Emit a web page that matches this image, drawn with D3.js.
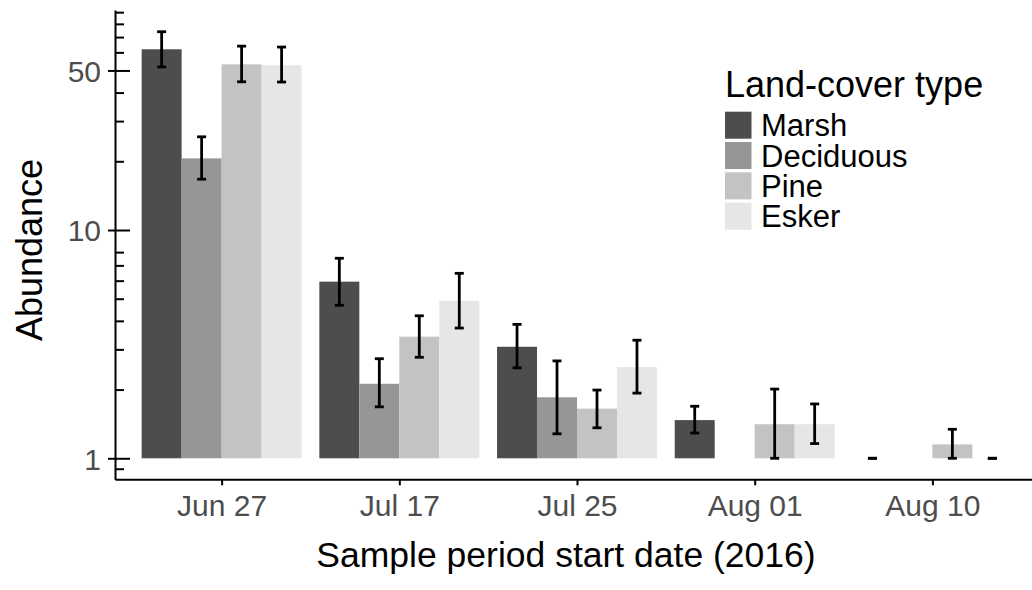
<!DOCTYPE html>
<html>
<head>
<meta charset="utf-8">
<script src="https://cdn.jsdelivr.net/npm/d3@7"></script>
<style>
  html, body { margin: 0; padding: 0; background: #fff; }
  svg { display: block; font-family: "Liberation Sans", Arial, sans-serif; }
</style>
</head>
<body>
<svg id="chart" width="1032" height="590"></svg>
<script>
// Sample periods (start dates, 2016) and land-cover types
const dates = ["Jun 27", "Jul 17", "Jul 25", "Aug 01", "Aug 10"];
const coverTypes = ["Marsh", "Deciduous", "Pine", "Esker"];

// Mean abundance per sample period (null = no catch)
const meanMarsh     = [61.9, 5.94, 3.08, 1.47, 1];
const meanDeciduous = [20.6, 2.12, 1.85, null, null];
const meanPine      = [53.2, 3.41, 1.65, 1.41, 1.15];
const meanEsker     = [52.7, 4.90, 2.51, 1.41, 1];

// Error-bar limits
const lowerMarsh     = [51.8, 4.68, 2.49, 1.29, 1];
const upperMarsh     = [73.9, 7.52, 3.86, 1.69, 1];
const lowerDeciduous = [16.7, 1.68, 1.28, null, null];
const upperDeciduous = [25.6, 2.73, 2.67, null, null];
const lowerPine      = [44.6, 2.77, 1.36, 1.00, 1.00];
const upperPine      = [63.9, 4.21, 1.99, 2.01, 1.34];
const lowerEsker     = [44.5, 3.72, 1.93, 1.16, 1];
const upperEsker     = [63.3, 6.46, 3.29, 1.73, 1];

// Axis ticks
const yMajorTicks = [1, 10, 50];
const yMinorTicks = [0.9, 2, 3, 4, 5, 6, 7, 8, 20, 30, 40, 60, 70, 80, 90];

const greys = ["#4d4d4d", "#969696", "#c3c3c3", "#e6e6e6"];

const series = [
  { type: "Marsh",     mean: meanMarsh,     lo: lowerMarsh,     hi: upperMarsh },
  { type: "Deciduous", mean: meanDeciduous, lo: lowerDeciduous, hi: upperDeciduous },
  { type: "Pine",      mean: meanPine,      lo: lowerPine,      hi: upperPine },
  { type: "Esker",     mean: meanEsker,     lo: lowerEsker,     hi: upperEsker }
];

const rows = [];
series.forEach(s => {
  dates.forEach((d, i) => {
    if (s.mean[i] != null) rows.push({ date: d, type: s.type, mean: s.mean[i], lo: s.lo[i], hi: s.hi[i] });
  });
});

const svg = d3.select("#chart");

const panel = { left: 115, right: 1039, top: 10, bottom: 479.3 };

const x = d3.scalePoint().domain(dates).range([panel.left, panel.right]).padding(0.6);
const groupWidth = x.step() * 0.9;
const xSub = d3.scaleBand().domain(coverTypes).range([-groupWidth / 2, groupWidth / 2]);

const y = d3.scaleLog().domain([0.809, 92]).range([panel.bottom, panel.top]);
const color = d3.scaleOrdinal().domain(coverTypes).range(greys);

// Bars rise from 1 (log baseline)
svg.append("g").selectAll("rect").data(rows).join("rect")
  .attr("x", d => x(d.date) + xSub(d.type))
  .attr("width", xSub.bandwidth())
  .attr("y", d => y(d.mean))
  .attr("height", d => y(1) - y(d.mean))
  .attr("fill", d => color(d.type));

// Error bars
const capHalf = 4.5;
const eb = svg.append("g").attr("stroke", "#000").attr("stroke-width", 2.8).attr("fill", "none");
rows.forEach(d => {
  const cx = x(d.date) + xSub(d.type) + xSub.bandwidth() / 2;
  eb.append("line").attr("x1", cx).attr("x2", cx).attr("y1", y(d.lo)).attr("y2", y(d.hi));
  eb.append("line").attr("x1", cx - capHalf).attr("x2", cx + capHalf).attr("y1", y(d.lo)).attr("y2", y(d.lo));
  eb.append("line").attr("x1", cx - capHalf).attr("x2", cx + capHalf).attr("y1", y(d.hi)).attr("y2", y(d.hi));
});

// Y axis: labelled major ticks, inward major and minor ticks
const yAxisG = svg.append("g").attr("transform", `translate(${panel.left},0)`)
  .call(d3.axisLeft(y).tickValues(yMajorTicks).tickFormat(d3.format("d")).tickSizeInner(7).tickSizeOuter(0).tickPadding(7));
yAxisG.select(".domain").attr("stroke", "#000").attr("stroke-width", 2);
yAxisG.selectAll(".tick line").attr("stroke", "#000").attr("stroke-width", 2);
yAxisG.selectAll(".tick text").attr("font-size", 30).attr("fill", "#4d4d4d")
  .attr("font-family", "Liberation Sans, Arial, sans-serif").attr("dy", "0.36em");

const yInMajor = svg.append("g").attr("transform", `translate(${panel.left},0)`)
  .call(d3.axisRight(y).tickValues(yMajorTicks).tickFormat("").tickSizeInner(15).tickSizeOuter(0));
yInMajor.select(".domain").remove();
yInMajor.selectAll(".tick line").attr("stroke", "#000").attr("stroke-width", 2);

const yInMinor = svg.append("g").attr("transform", `translate(${panel.left},0)`)
  .call(d3.axisRight(y).tickValues(yMinorTicks).tickFormat("").tickSizeInner(9).tickSizeOuter(0));
yInMinor.select(".domain").remove();
yInMinor.selectAll(".tick line").attr("stroke", "#000").attr("stroke-width", 2);

// X axis
const xAxisG = svg.append("g").attr("transform", `translate(0,${panel.bottom})`)
  .call(d3.axisBottom(x).tickSizeInner(6).tickSizeOuter(0).tickPadding(8));
xAxisG.select(".domain").attr("stroke", "#000").attr("stroke-width", 2);
xAxisG.selectAll(".tick line").attr("stroke", "#000").attr("stroke-width", 2);
xAxisG.selectAll(".tick text").attr("font-size", 30).attr("fill", "#4d4d4d")
  .attr("font-family", "Liberation Sans, Arial, sans-serif").attr("dy", "0").attr("y", 36.5);

// Axis titles
svg.append("text").attr("x", 566).attr("y", 566.5).attr("text-anchor", "middle")
  .attr("font-size", 35.5).attr("fill", "#000").text("Sample period start date (2016)");
svg.append("text").attr("transform", "translate(42,250) rotate(-90)").attr("text-anchor", "middle")
  .attr("font-size", 36).attr("fill", "#000").text("Abundance");

// Legend
const legend = svg.append("g").attr("transform", "translate(725,0)");
legend.append("text").attr("x", 0).attr("y", 97).attr("font-size", 36).attr("fill", "#000").text("Land-cover type");
const keyTop = 111.7, keyStep = 30.33;
const items = legend.selectAll("g.item").data(coverTypes).join("g").attr("class", "item")
  .attr("transform", (d, i) => `translate(0,${keyTop + i * keyStep})`);
items.append("rect").attr("width", 26.5).attr("height", 27).attr("fill", d => color(d));
items.append("text").attr("x", 36).attr("y", 13.5).attr("dy", "0.36em")
  .attr("font-size", 31).attr("fill", "#000").text(d => d);
</script>
</body>
</html>
